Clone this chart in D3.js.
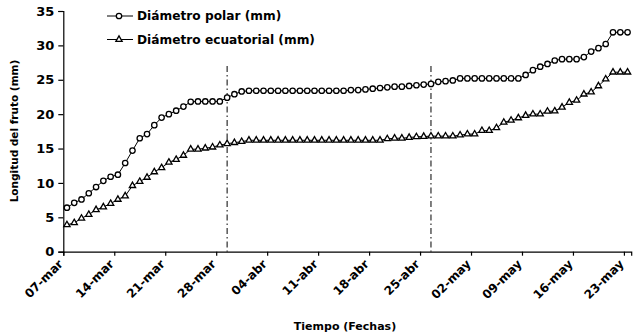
<!DOCTYPE html>
<html><head><meta charset="utf-8">
<script src="https://cdn.jsdelivr.net/npm/d3@7/dist/d3.min.js"></script>
<style>body{margin:0;background:#fff}svg{display:block}text{font-family:"DejaVu Sans",sans-serif;font-weight:bold;fill:#000}</style>
</head><body><div id="chart"></div>
<script>
const startDate = "2014-03-07";
const endDate = "2014-05-24";
const tickLabels = ["07-mar","14-mar","21-mar","28-mar","04-abr","11-abr","18-abr","25-abr","02-may","09-may","16-may","23-may"];
const yTicks = [0,5,10,15,20,25,30,35];
const markerLineDates = ["2014-03-29","2014-04-26"];
const seriesNames = ["Diámetro polar (mm)","Diámetro ecuatorial (mm)"];
const polar = [6.4,7.1,7.6,8.5,9.4,10.3,10.9,11.2,12.9,14.7,16.5,17.1,18.4,19.5,20.0,20.5,21.1,21.8,21.85,21.85,21.85,21.85,22.4,22.9,23.3,
 23.4,23.4,23.4,23.4,23.4,23.4,23.4,23.4,23.4,23.4,23.4,23.4,23.4,23.4,
 23.5,23.5,23.6,23.7,23.8,23.9,24.0,24.0,24.1,24.2,24.3,24.4,24.7,24.8,24.9,
 25.2,25.2,25.2,25.2,25.2,25.2,25.2,25.2,25.2,
 25.7,26.4,26.9,27.3,27.8,28.0,28.0,28.0,28.3,29.1,29.6,30.2,31.9,31.9,31.9];
const ecuatorial = [3.9,4.2,4.85,5.4,6.1,6.5,7.0,7.6,8.1,9.6,10.2,10.8,11.6,12.2,13.0,13.4,14.0,14.9,14.9,15.05,15.2,15.5,15.7,15.85,16.0,
 16.2,16.2,16.2,16.2,16.2,16.2,16.2,16.2,16.2,16.2,16.2,16.2,16.2,16.2,16.2,16.2,16.2,16.2,16.2,
 16.4,16.5,16.5,16.6,16.7,16.75,16.8,16.8,16.8,16.8,16.95,17.1,17.1,17.6,17.6,18.0,18.8,19.1,19.45,19.8,20.0,20.0,20.4,20.45,21.0,21.7,22.0,22.9,23.2,24.1,25.1,26.1,26.1,26.1];

const W = 635, H = 336;
const parse = d3.utcParse("%Y-%m-%d");
const days = d3.utcDays(parse(startDate), parse(endDate));
const x = d3.scaleUtc().domain([parse(startDate), parse(endDate)]).range([63.3, 631.2]);
const half = (x(days[1]) - x(days[0])) / 2;
const y = d3.scaleLinear().domain([0,35]).range([251.7, 11]);

const svg = d3.select("#chart").append("svg").attr("width", W).attr("height", H);

// axes
const tickDates = tickLabels.map((_, i) => d3.utcDay.offset(parse(startDate), i*7));
const xAxis = d3.axisBottom(x).tickValues(tickDates).tickSize(4).tickFormat((d,i)=>tickLabels[i]);
const gx = svg.append("g").attr("transform", `translate(0,${y(0)})`).call(xAxis);
gx.select(".domain").attr("stroke","#000").attr("stroke-width",1.2);
gx.selectAll(".tick line").attr("stroke","#000").attr("stroke-width",1.2);
gx.selectAll(".tick text").attr("font-size", 12).attr("text-anchor","end")
  .attr("x",0).attr("y",0).attr("dx",0).attr("dy",0)
  .attr("transform","translate(0,13) rotate(-45)");

const yAxis = d3.axisLeft(y).tickValues(yTicks).tickSize(5).tickPadding(4);
const gy = svg.append("g").attr("transform", `translate(${x.range()[0]},0)`).call(yAxis);
gy.select(".domain").attr("stroke","#000").attr("stroke-width",1.2);
gy.selectAll(".tick line").attr("stroke","#000").attr("stroke-width",1.2);
gy.selectAll(".tick text").attr("font-size", 13);
gy.selectAll("text").attr("font-family",null);
gx.selectAll("text").attr("font-family",null);

// dash-dot reference lines
svg.selectAll(".ref").data(markerLineDates).join("line")
  .attr("x1", d => x(parse(d)) + half).attr("x2", d => x(parse(d)) + half)
  .attr("y1", 66).attr("y2", y(0))
  .attr("stroke","#000").attr("stroke-width",1).attr("stroke-dasharray","6,3,1.5,3");

const line = d3.line().x((d,i)=>x(days[i])+half).y(d=>y(d));
const tri = d3.symbol().type(d3.symbolTriangle).size(17);

function drawSeries(vals, kind){
  svg.append("path").datum(vals).attr("d", line).attr("fill","none").attr("stroke","#000").attr("stroke-width",1);
  const g = svg.append("g");
  if(kind==="circle"){
    g.selectAll("circle").data(vals).join("circle")
      .attr("cx",(d,i)=>x(days[i])+half).attr("cy",d=>y(d)).attr("r",2.7)
      .attr("fill","#fff").attr("stroke","#000").attr("stroke-width",1.3);
  } else {
    g.selectAll("path").data(vals).join("path").attr("d",tri)
      .attr("transform",(d,i)=>`translate(${x(days[i])+half},${y(d)})`)
      .attr("fill","#fff").attr("stroke","#000").attr("stroke-width",1.3);
  }
}
drawSeries(polar,"circle");
drawSeries(ecuatorial,"tri");

// legend
const leg = svg.append("g");
const legY = [16, 39.5];
seriesNames.forEach((name,i)=>{
  leg.append("line").attr("x1",107).attr("x2",133).attr("y1",legY[i]).attr("y2",legY[i]).attr("stroke","#000").attr("stroke-width",1);
  if(i===0) leg.append("circle").attr("cx",119).attr("cy",legY[i]).attr("r",2.7).attr("fill","#fff").attr("stroke","#000").attr("stroke-width",1.3);
  else leg.append("path").attr("d",tri).attr("transform",`translate(119,${legY[i]})`).attr("fill","#fff").attr("stroke","#000").attr("stroke-width",1.3);
  leg.append("text").attr("x",137).attr("y",legY[i]).attr("dy","0.36em").attr("font-size",12.2).text(name);
});

// axis titles
svg.append("text").attr("x",345).attr("y",330).attr("text-anchor","middle").attr("font-size",11).text("Tiempo (Fechas)");
svg.append("text").attr("transform","translate(14,131) rotate(-90)").attr("text-anchor","middle").attr("dy","0.36em").attr("font-size",10.5).text("Longitud del fruto  (mm)");
</script></body></html>
